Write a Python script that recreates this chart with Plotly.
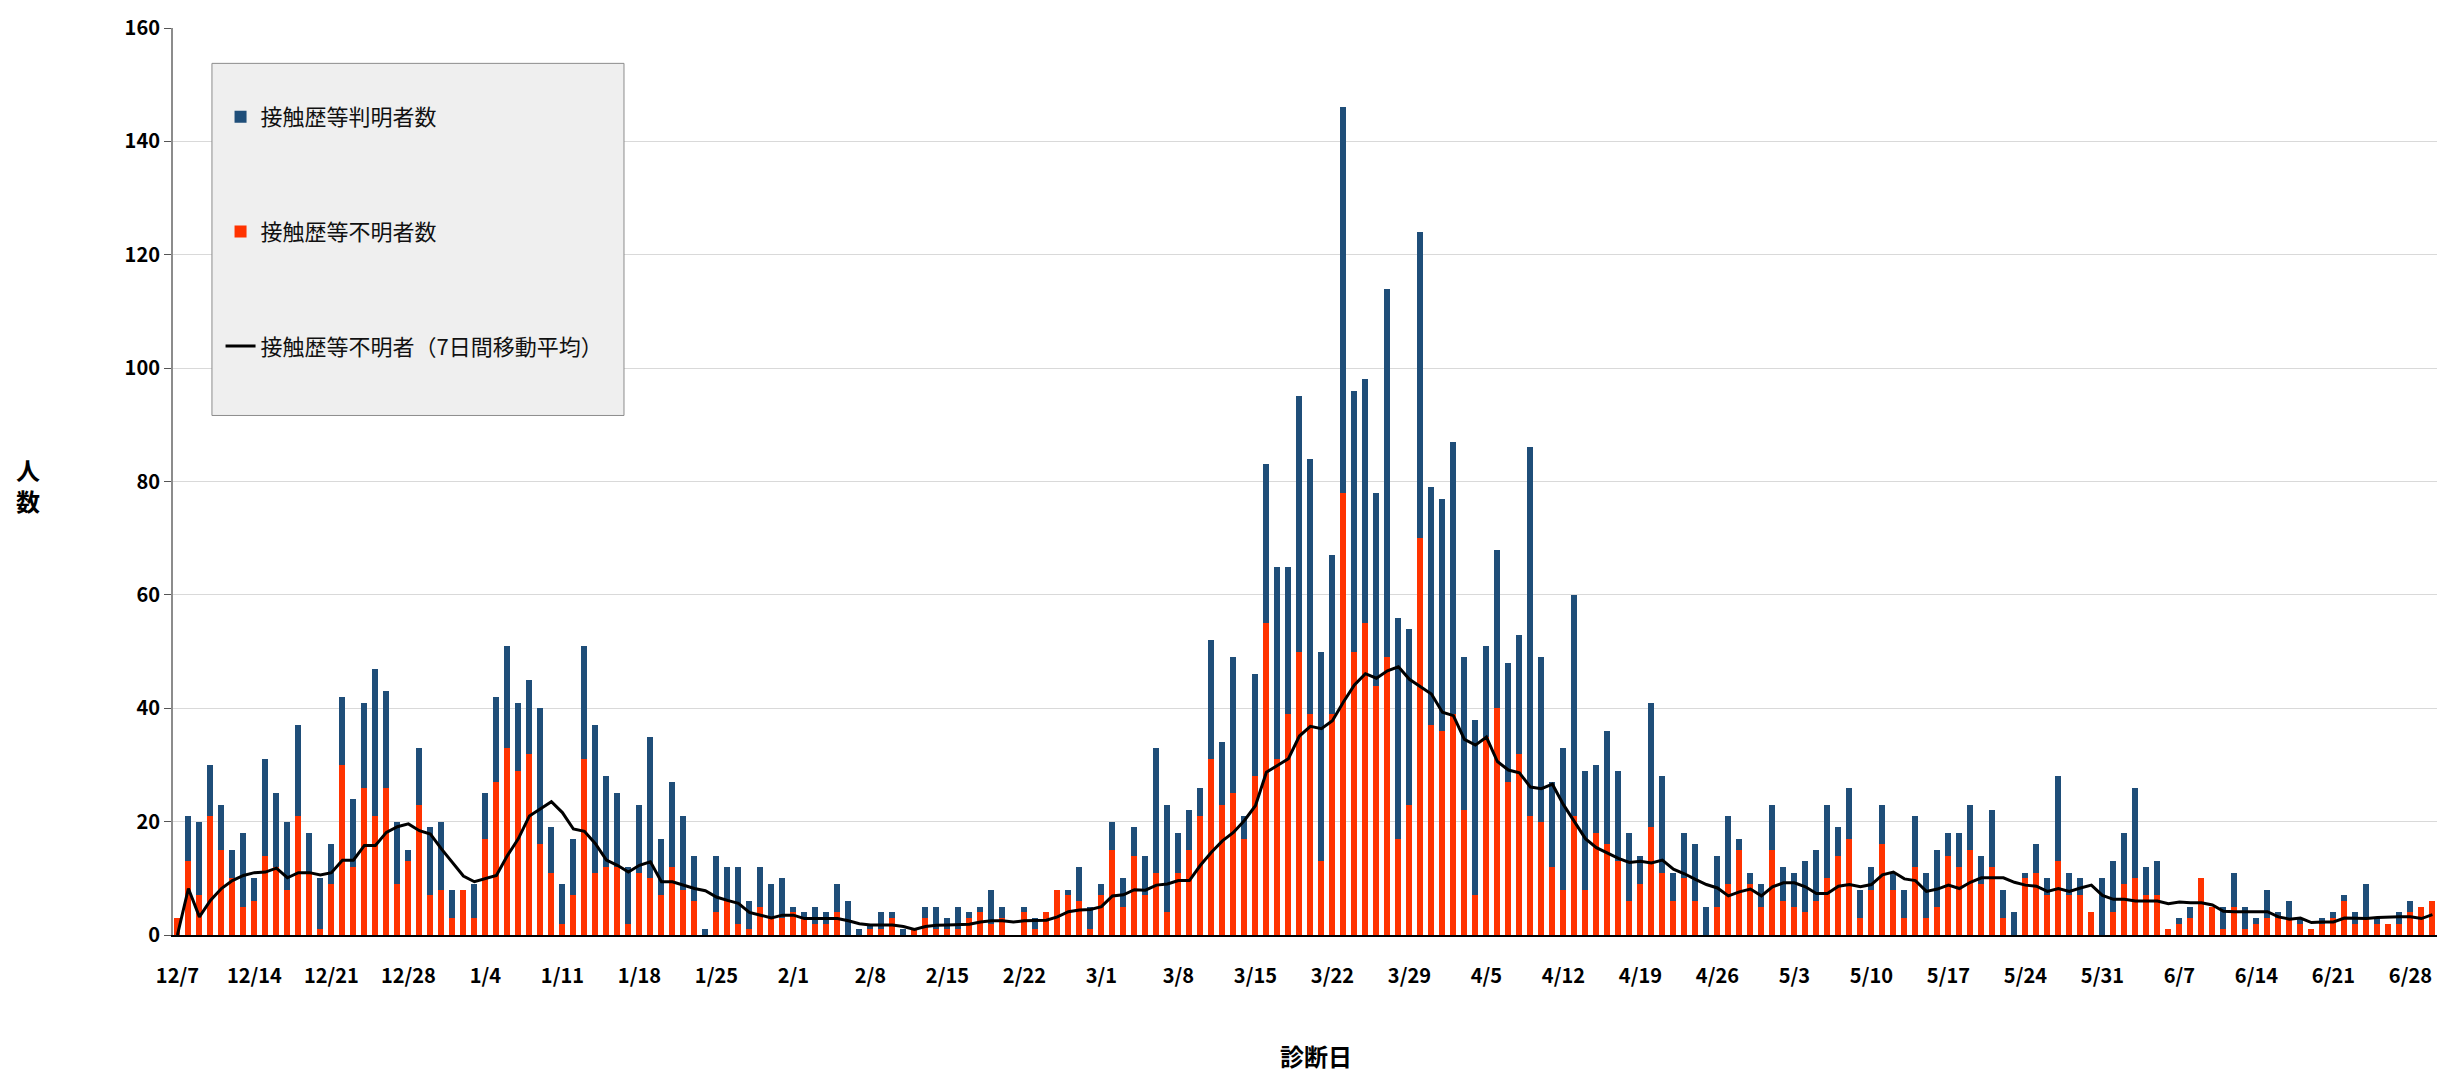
import pandas as pd
import plotly.graph_objects as go

# ---- data ----
start_date = "2020-12-07"
n_days = 206

# 接触歴等不明者数 (red, bottom of stack)
unknown = [3, 13, 7, 21, 15, 10, 5, 6, 14, 12, 8, 21, 11, 1, 9, 30, 12, 26, 21, 26,
           9, 13, 23, 7, 8, 3, 8, 3, 17, 27, 33, 29, 32, 16, 11, 2, 7, 31, 11, 12,
           12, 2, 11, 10, 7, 12, 8, 6, 0, 4, 6, 2, 1, 5, 3, 3, 4, 3, 2, 2,
           4, 0, 0, 1, 1, 3, 0, 1, 3, 1, 1, 1, 3, 4, 2, 3, 0, 4, 1, 4,
           8, 7, 6, 1, 7, 15, 5, 14, 7, 11, 4, 11, 15, 21, 31, 23, 25, 17, 28, 55,
           31, 39, 50, 39, 13, 39, 78, 50, 55, 44, 49, 17, 23, 70, 37, 36, 39, 22, 7, 35,
           40, 27, 32, 21, 20, 12, 8, 21, 8, 18, 16, 13, 6, 9, 19, 11, 6, 10, 6, 0,
           5, 9, 15, 9, 5, 15, 6, 5, 4, 6, 10, 14, 17, 3, 8, 16, 8, 3, 12, 3,
           5, 14, 12, 15, 9, 12, 3, 0, 10, 11, 7, 13, 7, 7, 4, 0, 4, 9, 10, 7,
           7, 1, 2, 3, 10, 5, 1, 5, 1, 2, 3, 3, 3, 2, 1, 2, 3, 6, 2, 3,
           2, 2, 2, 4, 5, 6]

# daily totals (判明 + 不明)
total = [3, 21, 20, 30, 23, 15, 18, 10, 31, 25, 20, 37, 18, 10, 16, 42, 24, 41, 47, 43,
         20, 15, 33, 19, 20, 8, 8, 9, 25, 42, 51, 41, 45, 40, 19, 9, 17, 51, 37, 28,
         25, 12, 23, 35, 17, 27, 21, 14, 1, 14, 12, 12, 6, 12, 9, 10, 5, 4, 5, 4,
         9, 6, 1, 2, 4, 4, 1, 1, 5, 5, 3, 5, 4, 5, 8, 5, 0, 5, 3, 4,
         8, 8, 12, 5, 9, 20, 10, 19, 14, 33, 23, 18, 22, 26, 52, 34, 49, 21, 46, 83,
         65, 65, 95, 84, 50, 67, 146, 96, 98, 78, 114, 56, 54, 124, 79, 77, 87, 49, 38, 51,
         68, 48, 53, 86, 49, 27, 33, 60, 29, 30, 36, 29, 18, 14, 41, 28, 11, 18, 16, 5,
         14, 21, 17, 11, 9, 23, 12, 11, 13, 15, 23, 19, 26, 8, 12, 23, 11, 8, 21, 11,
         15, 18, 18, 23, 14, 22, 8, 4, 11, 16, 10, 28, 11, 10, 4, 10, 13, 18, 26, 12,
         13, 1, 3, 5, 10, 5, 5, 11, 5, 3, 8, 4, 6, 3, 1, 3, 4, 7, 4, 9,
         3, 2, 4, 6, 5, 6]

# 接触歴等判明者数 (blue, top of stack)
known = [t - u for t, u in zip(total, unknown)]

# 接触歴等不明者（7日間移動平均）
moving_avg = [0, 8.2, 3.2, 6.1, 8.2, 9.6, 10.5, 11.0, 11.1, 11.8, 10.1, 11.0, 11.0, 10.6, 11.0, 13.2, 13.2, 15.8, 15.8, 18.1,
              19.1, 19.6, 18.4, 17.8, 15.2, 12.9, 10.4, 9.4, 9.9, 10.5, 14.0, 17.0, 21.0, 22.2, 23.5, 21.6, 18.7, 18.3, 16.1, 13.2,
              12.3, 11.1, 12.3, 12.9, 9.4, 9.4, 8.8, 8.2, 7.8, 6.7, 6.1, 5.6, 4.0, 3.5, 3.0, 3.5, 3.5, 2.9, 2.9, 3.0,
              2.9, 2.5, 2.0, 1.75, 1.75, 1.75, 1.5, 1.0, 1.5, 1.7, 1.75, 1.8, 1.9, 2.3, 2.5, 2.5, 2.3, 2.5, 2.5, 2.6,
              3.2, 4.1, 4.4, 4.5, 5.0, 6.9, 7.1, 8.0, 7.9, 8.8, 9.0, 9.6, 9.6, 12.3, 14.6, 16.6, 18.1, 20.2, 22.8, 28.7,
              29.9, 31.1, 35.1, 36.8, 36.4, 37.8, 41.1, 44.1, 46.1, 45.3, 46.6, 47.3, 45.1, 43.8, 42.5, 39.3, 38.7, 34.5, 33.5, 34.9,
              30.6, 29.1, 28.6, 26.1, 25.8, 26.6, 23.0, 20.0, 17.0, 15.4, 14.4, 13.5, 12.8, 13.0, 12.7, 13.2, 11.6, 10.8, 9.8, 8.9,
              8.3, 6.9, 7.6, 8.1, 6.9, 8.5, 9.2, 9.2, 8.5, 7.3, 7.3, 8.6, 8.9, 8.5, 8.9, 10.6, 11.1, 9.9, 9.6, 7.7,
              8.1, 8.8, 8.2, 9.3, 10.1, 10.1, 10.1, 9.3, 8.8, 8.6, 7.7, 8.2, 7.7, 8.3, 8.8, 7.0, 6.3, 6.3, 6.0, 6.0,
              6.0, 5.5, 5.8, 5.7, 5.7, 5.3, 4.2, 4.1, 4.1, 4.1, 4.1, 3.2, 2.8, 3.0, 2.2, 2.3, 2.3, 3.0, 2.9, 2.9,
              3.1, 3.2, 3.2, 3.2, 2.9, 3.6]

tick_labels = ["12/7", "12/14", "12/21", "12/28", "1/4", "1/11", "1/18", "1/25", "2/1", "2/8",
               "2/15", "2/22", "3/1", "3/8", "3/15", "3/22", "3/29", "4/5", "4/12", "4/19",
               "4/26", "5/3", "5/10", "5/17", "5/24", "5/31", "6/7", "6/14", "6/21", "6/28"]

dates = pd.date_range(start_date, periods=n_days)
tick_vals = dates[::7][:len(tick_labels)]

FONT = "Noto Sans CJK JP"
BLUE = "#1f4e79"
RED = "#ff3300"

fig = go.Figure()
fig.add_trace(go.Bar(x=dates, y=unknown, name="接触歴等不明者数", marker=dict(color=RED, line=dict(width=0)),
                     legendgroup="b", legendrank=2))
fig.add_trace(go.Bar(x=dates, y=known, name="接触歴等判明者数", marker=dict(color=BLUE, line=dict(width=0)),
                     legendgroup="a", legendrank=1))
fig.add_trace(go.Scatter(x=dates, y=moving_avg, mode="lines", name="接触歴等不明者（7日間移動平均）",
                         line=dict(color="black", width=3), legendgroup="c", legendrank=3))

W, H = 2463, 1075
L, R, T, B = 173, 26, 22, 140

fig.update_layout(
    width=W, height=H,
    margin=dict(l=L, r=R, t=T, b=B),
    paper_bgcolor="white", plot_bgcolor="white",
    barmode="stack", bargap=0.45,
    font=dict(family=FONT, color="black"),
    showlegend=True,
    legend=dict(x=0.021, y=0.925, xanchor="left", yanchor="top",
                bgcolor="rgba(0,0,0,0)", borderwidth=0,
                traceorder="grouped", tracegroupgap=83,
                font=dict(family=FONT, size=22, color="#111")),
    xaxis=dict(type="date",
               range=[dates[0] - pd.Timedelta(hours=9.6), dates[-1] + pd.Timedelta(hours=10)],
               tickvals=tick_vals, ticktext=tick_labels,
               tickfont=dict(family=FONT, size=20, color="black", weight="bold"),
               showgrid=False, showline=True, linecolor="black", linewidth=2,
               ticks="", ticklabelstandoff=22, zeroline=False),
    yaxis=dict(range=[0, 160], dtick=20, tick0=0,
               tickfont=dict(family=FONT, size=20, color="black", weight="bold"),
               showgrid=True, gridcolor="#d9d9d9", gridwidth=1,
               showline=True, linecolor="#8c8c8c", linewidth=2,
               ticks="outside", ticklen=7, tickcolor="#555", tickwidth=1,
               zeroline=False),
    shapes=[dict(type="rect", xref="paper", yref="paper",
                 x0=0.0172, x1=0.1992, y0=0.5728, y1=0.961,
                 fillcolor="#efefef", line=dict(color="#8c8c8c", width=1), layer="above")],
    annotations=[
        dict(text="人<br>数", xref="paper", yref="paper", x=(28 - L) / (W - L - R), y=(H - B - 482) / (H - T - B),
             showarrow=False, font=dict(family=FONT, size=24, color="black", weight="bold"),
             xanchor="center", yanchor="middle"),
        dict(text="診断日", xref="paper", yref="paper", x=(1316 - L) / (W - L - R), y=-(1056 - (H - B)) / (H - T - B),
             showarrow=False, font=dict(family=FONT, size=24, color="black", weight="bold"),
             xanchor="center", yanchor="middle"),
    ],
)

fig.write_html("out.html", config={"displayModeBar": False},
               post_script="document.body.style.margin='0';document.body.style.overflow='hidden';")
